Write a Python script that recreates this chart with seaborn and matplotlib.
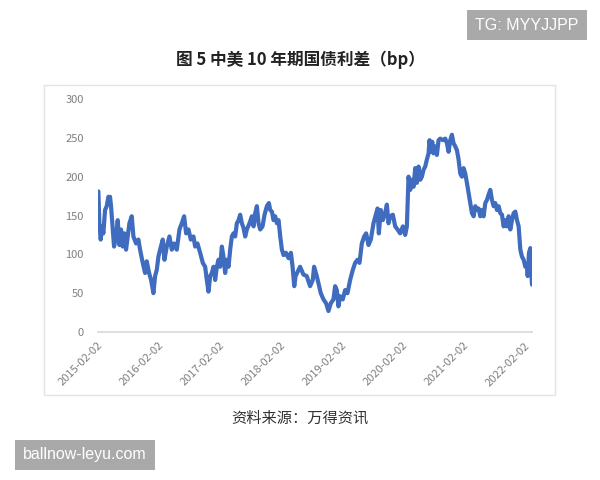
import pandas as pd
import matplotlib.pyplot as plt
import matplotlib.patches as patches
import seaborn as sns

# 中美10年期国债利差 (bp)，从图上读取的近似值
# 日期用 2015-02-02 起的天数表示
start_date = '2015-02-02'
day_offsets = [
    4, 10, 18, 26, 34, 44, 54, 64, 74, 80, 90, 98, 110, 120, 130, 140, 150, 160, 170, 180,
    190, 204, 214, 230, 244, 254, 270, 284, 294, 308, 320, 334, 344, 354, 364, 374, 390, 400,
    414, 430, 444, 458, 474, 490, 504, 518, 530, 544, 558, 574, 584, 598, 614, 630, 644, 654,
    664, 674, 684, 694, 704, 714, 724, 734, 744, 754, 764, 774, 784, 794, 804, 814, 824, 834,
    844, 854, 864, 874, 884, 894, 910, 924, 934, 944, 954, 964, 974, 988, 1000, 1014, 1026,
    1034, 1044, 1054, 1064, 1074, 1084, 1094, 1104, 1114, 1128, 1144, 1158, 1168, 1178, 1186,
    1213, 1233, 1253, 1273, 1289, 1297, 1313, 1323, 1337, 1353, 1369, 1383, 1397, 1413, 1423,
    1433, 1443, 1453, 1469, 1483, 1497, 1513, 1529, 1543, 1557, 1569, 1583, 1597, 1609, 1623,
    1637, 1653, 1669, 1677, 1685, 1697, 1709, 1723, 1733, 1743, 1753, 1769, 1783, 1797, 1813,
    1829, 1843, 1853, 1863, 1873, 1883, 1893, 1903, 1913, 1923, 1933, 1943, 1953, 1963, 1973,
    1983, 1989, 1997, 2005, 2013, 2023, 2033, 2043, 2053, 2069, 2083, 2093, 2103, 2113, 2123,
    2133, 2143, 2153, 2163, 2173, 2183, 2193, 2203, 2213, 2223, 2233, 2243, 2253, 2263, 2273,
    2283, 2293, 2303, 2313, 2323, 2333, 2343, 2353, 2363, 2373, 2383, 2393, 2403, 2413, 2423,
    2433, 2443, 2453, 2463, 2473, 2483, 2493, 2503, 2513, 2523, 2533, 2543, 2553, 2563, 2573,
    2577, 2585, 2593, 2597, 2603,
]
spread_bp = [
    181, 140, 119, 136, 127, 157, 162, 174, 174, 162, 132, 110, 123, 144, 112, 132, 110, 127, 106, 123,
    140, 149, 123, 114, 119, 106, 89, 76, 91, 76, 67, 50, 72, 80, 97, 106, 119, 93,
    110, 123, 106, 114, 106, 132, 140, 149, 127, 132, 119, 123, 110, 114, 102, 89, 84, 67,
    52, 72, 76, 84, 67, 84, 93, 84, 110, 97, 76, 93, 84, 106, 123, 127, 123, 140,
    144, 151, 140, 134, 123, 132, 140, 149, 136, 153, 162, 140, 132, 136, 151, 162, 166,
    157, 155, 144, 149, 140, 144, 123, 106, 99, 102, 95, 102, 84, 59, 72,
    84, 74, 72, 59, 67, 84, 72, 63, 50, 42, 37, 27, 37, 42, 59,
    54, 33, 46, 42, 54, 50, 67, 80, 89, 93, 89, 114, 123, 127, 112,
    119, 140, 153, 159, 127, 157, 144, 153, 164, 140, 149, 151, 136, 132, 127,
    136, 125, 136, 200, 183, 196, 187, 211, 192, 213, 196, 200, 209, 213, 222,
    230, 247, 232, 245, 230, 239, 228, 247, 249, 247, 249, 243, 232, 247, 254,
    243, 239, 234, 222, 204, 200, 211, 204, 192, 179, 166, 153, 149, 162, 157,
    159, 149, 157, 149, 166, 170, 177, 183, 170, 162, 166, 157, 162, 153, 151,
    136, 144, 136, 149, 132, 144, 153, 155, 144, 136, 106, 97, 93, 84, 86,
    72, 102, 108, 84, 61,
]
tick_labels = ['2015-02-02', '2016-02-02', '2017-02-02', '2018-02-02',
               '2019-02-02', '2020-02-02', '2021-02-02', '2022-02-02']
y_ticks = [0, 50, 100, 150, 200, 250, 300]

df = pd.DataFrame({
    'date': pd.Timestamp(start_date) + pd.to_timedelta(day_offsets, unit='D'),
    'spread': spread_bp,
})

sns.set_theme(style='white')
plt.rcParams['font.family'] = ['Noto Sans CJK SC', 'DejaVu Sans']

fig = plt.figure(figsize=(6, 4.8), dpi=100)

# 外框
fig.patches.append(patches.Rectangle((44 / 600, 1 - 395 / 480), 511 / 600, 310 / 480,
                                     transform=fig.transFigure, fill=False,
                                     edgecolor='#e3e3e3', linewidth=1.0))

ax = fig.add_axes([97.7 / 600, 1 - 332 / 480, (532 - 97.7) / 600, (332 - 99) / 480])
sns.lineplot(data=df, x='date', y='spread', ax=ax, color='#3f6cbf', linewidth=3.0)

ax.set_xlim(pd.Timestamp(start_date), pd.Timestamp(start_date) + pd.Timedelta(days=2603))
ax.set_ylim(0, 300)
ax.set_yticks(y_ticks)
ax.set_yticklabels([str(v) for v in y_ticks], fontsize=8, color='#7f7f7f')
ax.set_xticks(pd.to_datetime(tick_labels))
ax.set_xticklabels(tick_labels, rotation=45, ha='right', rotation_mode='anchor',
                   fontsize=8, color='#7f7f7f')
ax.tick_params(axis='y', length=0, pad=10)
ax.tick_params(axis='x', length=3, color='#d9d9d9', pad=3)
ax.set_xlabel('')
ax.set_ylabel('')
for side in ['top', 'right', 'left']:
    ax.spines[side].set_visible(False)
ax.spines['bottom'].set_color('#d9d9d9')
ax.patch.set_alpha(0)

fig.text(0.5, 1 - 60 / 480, '图 5 中美 10 年期国债利差（bp）', ha='center', va='center',
         fontsize=12, fontweight='bold', color='#222222')
fig.text(0.5, 1 - 418 / 480, '资料来源：万得资讯', ha='center', va='center',
         fontsize=11, color='#333333')

# 水印
fig.text(527 / 600, 1 - 25 / 480, 'TG: MYYJJPP', ha='center', va='center', fontsize=11.5,
         color='white', family=['Liberation Sans', 'DejaVu Sans'],
         bbox=dict(boxstyle='square,pad=0.5', facecolor='#a9a9a9', edgecolor='none'))
fig.text(85 / 600, 1 - 455 / 480, 'ballnow-leyu.com', ha='center', va='center', fontsize=11.5,
         color='white', family=['Liberation Sans', 'DejaVu Sans'],
         bbox=dict(boxstyle='square,pad=0.5', facecolor='#a9a9a9', edgecolor='none'))

fig.savefig('out.png', dpi=100)
